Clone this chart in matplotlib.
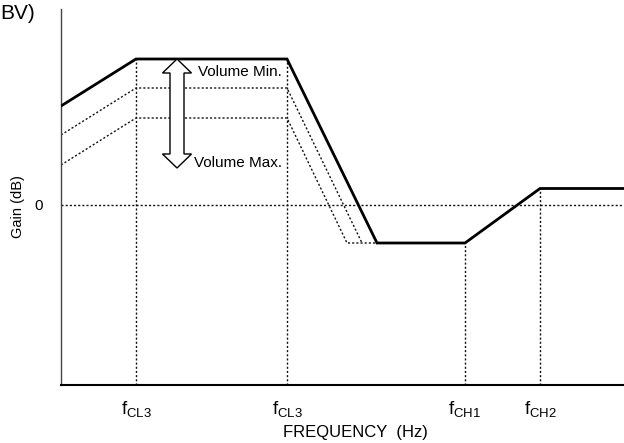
import matplotlib
matplotlib.use("Agg")
import matplotlib.pyplot as plt
from matplotlib.patches import Polygon

plt.rcParams['font.family'] = ['Liberation Sans', 'DejaVu Sans']
plt.rcParams['mathtext.fontset'] = 'custom'
plt.rcParams['mathtext.rm'] = 'Liberation Sans'
plt.rcParams['mathtext.it'] = 'Liberation Sans:italic'

# ---- data (arbitrary frequency units / gain units) ----
freq_solid = [0, 7.5, 22.6, 31.6, 40.4, 47.9, 56.3]
gain_solid = [9.9, 14.6, 14.6, -3.8, -3.8, 1.65, 1.65]

freq_mid = [0, 7.5, 22.6, 30.1]
gain_mid = [7.0, 11.7, 11.7, -3.8]

freq_low = [0, 7.5, 22.6, 28.6, 31.6]
gain_low = [4.0, 8.7, 8.7, -3.8, -3.8]

tick_freqs = [7.5, 22.6, 40.4, 47.9]
tick_gains = [14.6, 14.6, -3.8, 1.65]
tick_labels = [r'$\mathrm{f}_{\mathrm{CL3}}$', r'$\mathrm{f}_{\mathrm{CL3}}$',
               r'$\mathrm{f}_{\mathrm{CH1}}$', r'$\mathrm{f}_{\mathrm{CH2}}$']

x_min, x_max = 0, 56.3
y_min, y_max = -18, 19.6

fig = plt.figure(figsize=(6.24, 4.43), dpi=100)
ax = fig.add_axes([61/624, 58/443, 563/624, 376/443])
ax.set_xlim(x_min, x_max)
ax.set_ylim(y_min, y_max)

dot = (0, (1.5, 1.5))
ax.plot(freq_solid, gain_solid, color='black', lw=2.0, solid_joinstyle='miter', zorder=5)
ax.plot(freq_mid, gain_mid, color='#111111', lw=1.0, ls=dot)
ax.plot(freq_low, gain_low, color='#111111', lw=1.0, ls=dot)
ax.axhline(0, color='#111111', lw=1.0, ls=dot)
for f, g in zip(tick_freqs, tick_gains):
    ax.plot([f, f], [y_min, g], color='#111111', lw=1.0, ls=dot)

# hollow double arrow
cx, top, bot = 11.6, 14.6, 3.7
sw, hw, hl = 0.7, 1.45, 1.4
pts = [(cx, top), (cx + hw, top - hl), (cx + sw, top - hl), (cx + sw, bot + hl),
       (cx + hw, bot + hl), (cx, bot), (cx - hw, bot + hl), (cx - sw, bot + hl),
       (cx - sw, top - hl), (cx - hw, top - hl)]
ax.add_patch(Polygon(pts, closed=True, facecolor='white', edgecolor='black', lw=1.0, zorder=6))
ax.text(13.7, 13.3, 'Volume Min.', fontsize=11, va='center', ha='left')
ax.text(13.3, 4.2, 'Volume Max.', fontsize=11, va='center', ha='left')

for s in ['top', 'right']:
    ax.spines[s].set_visible(False)
ax.spines['left'].set_color('#444444')
ax.spines['left'].set_linewidth(1.0)
ax.spines['bottom'].set_linewidth(1.5)

ax.set_yticks([0])
ax.set_yticklabels(['0'], fontsize=11)
ax.tick_params(axis='y', length=0, pad=13)
ax.set_xticks(tick_freqs)
ax.set_xticklabels(tick_labels, fontsize=13.5)
ax.tick_params(axis='x', length=0, pad=10)

fig.text(355/624, 1 - 432/443, 'FREQUENCY  (Hz)', fontsize=12, ha='center', va='center')
fig.text(18/624, 1 - 207/443, 'Gain (dB)', fontsize=10.5, rotation=90, ha='center', va='center')
fig.text(0/624, 1 - 4/443, 'BV)', fontsize=15, ha='left', va='top')

fig.savefig('out.png', dpi=100)
